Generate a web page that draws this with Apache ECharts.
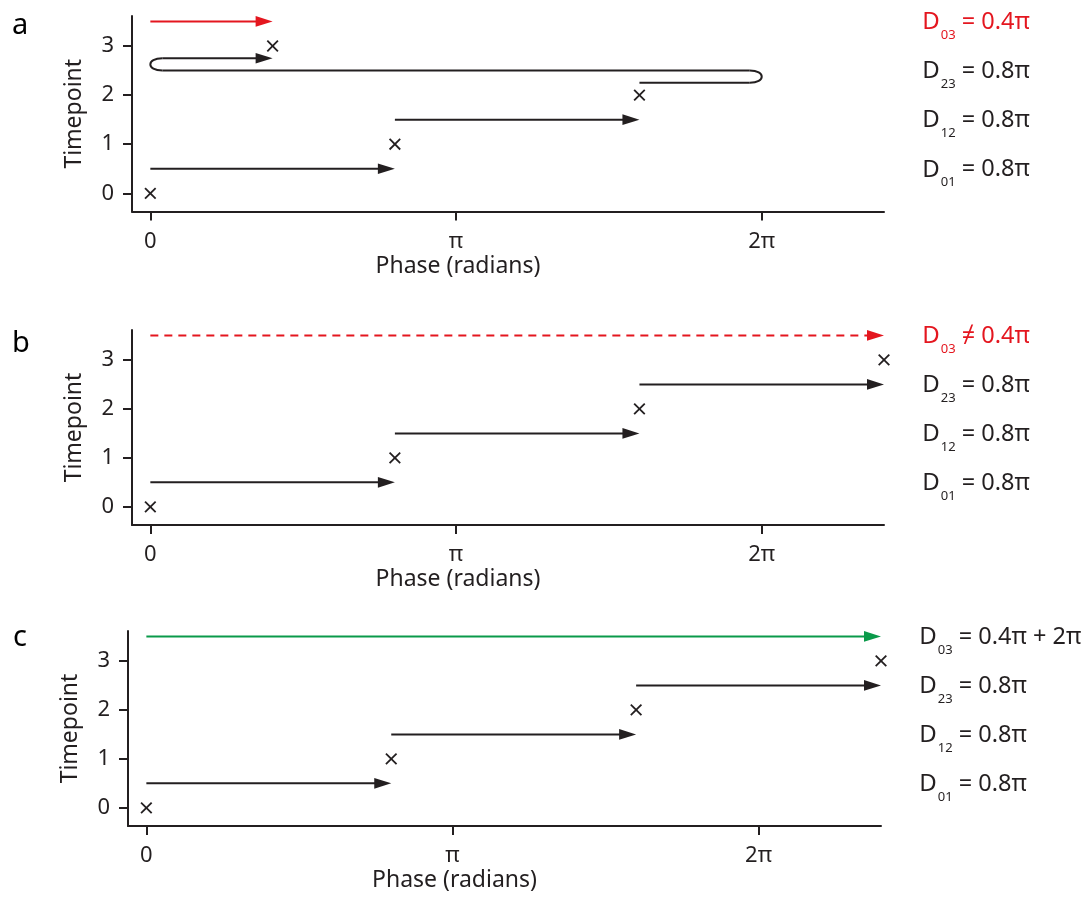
<!DOCTYPE html>
<html>
<head>
<meta charset="utf-8">
<script src="https://cdn.jsdelivr.net/npm/echarts@6/dist/echarts.min.js"></script>
<style>html,body{margin:0;padding:0;background:#fff}#chart{width:1083px;height:897px}</style>
</head>
<body>
<div id="chart"></div>
<script>
// ---------------- data ----------------
const PANELS = ['a', 'b', 'c'];
const TIMEPOINTS = [0, 1, 2, 3];
const X_TICK_VALUES = [0, 1, 2];          // phase, in units of π
const X_TICK_LABELS = ['0', 'π', '2π'];
const Y_TICK_VALUES = [0, 1, 2, 3];

// observed phase (units of π) at each timepoint
const phaseA = [0, 0.8, 1.6, 0.4];
const phaseB = [0, 0.8, 1.6, 2.4];
const phaseC = [0, 0.8, 1.6, 2.4];

// consecutive phase steps: [from, to, level]
const stepsA = [[0, 0.8, 0.5], [0.8, 1.6, 1.5]];
const stepsB = [[0, 0.8, 0.5], [0.8, 1.6, 1.5], [1.6, 2.4, 2.5]];
const stepsC = [[0, 0.8, 0.5], [0.8, 1.6, 1.5], [1.6, 2.4, 2.5]];
// wrapped step 2→3 in panel a: path points [phase, level]
const wrapA = [[1.6, 2.25], [2, 2.25], [2, 2.5], [0, 2.5], [0, 2.75], [0.4, 2.75]];
// direct 0→3 difference: [from, to, level]
const directA = [[0, 0.4, 3.5]];
const directB = [[0, 2.4, 3.5]];
const directC = [[0, 2.4, 3.5]];

// annotations
const labelSubs = ['03', '23', '12', '01'];
const labelLevels = [3.5, 2.5, 1.5, 0.5];
const relA = ['=', '=', '=', '='];
const relB = ['≠', '=', '=', '='];
const relC = ['=', '=', '=', '='];
const valA = ['0.4π', '0.8π', '0.8π', '0.8π'];
const valB = ['0.4π', '0.8π', '0.8π', '0.8π'];
const valC = ['0.4π + 2π', '0.8π', '0.8π', '0.8π'];

// ---------------- styles / layout ----------------
const INK = '#231f20', RED = '#e4161f', GREEN = '#0a9a4a';
const FONT = 'Noto Sans';
const LW = 2, HEAD_L = 17, HEAD_W = 5.3, CROSS = 5.3;
const LABEL_X = 2.525;
const GRIDS = [
  {left: 132, top: 16, width: 752, height: 195.5},
  {left: 132, top: 330, width: 752, height: 195},
  {left: 128, top: 631, width: 753, height: 195}
];
const X_MIN = -0.06, X_MAX = 2.4, Y_MIN = -0.37, Y_MAX = 3.61;

function arrowShapes(x0, y, x1, color, dash) {
  return [
    {type: 'line', shape: {x1: x0, y1: y, x2: x1 - HEAD_L + 1, y2: y},
     style: {stroke: color, lineWidth: LW, lineDash: dash || null, fill: null}},
    {type: 'polygon', shape: {points: [[x1, y], [x1 - HEAD_L, y - HEAD_W], [x1 - HEAD_L, y + HEAD_W]]},
     style: {fill: color}}
  ];
}

function arrowSeries(idx, data, color, dash) {
  return {
    type: 'custom', xAxisIndex: idx, yAxisIndex: idx, data: data, silent: true, clip: false,
    renderItem(params, api) {
      const a = api.coord([api.value(0), api.value(2)]);
      const b = api.coord([api.value(1), api.value(2)]);
      return {type: 'group', children: arrowShapes(a[0], a[1], b[0], color, dash)};
    }
  };
}

function crossSeries(idx, phases) {
  return {
    type: 'custom', xAxisIndex: idx, yAxisIndex: idx, silent: true, clip: false,
    data: phases.map((p, i) => [p, TIMEPOINTS[i]]),
    renderItem(params, api) {
      const p = api.coord([api.value(0), api.value(1)]);
      const s = CROSS;
      return {type: 'group', children: [
        {type: 'line', shape: {x1: p[0] - s, y1: p[1] - s, x2: p[0] + s, y2: p[1] + s}, style: {stroke: INK, lineWidth: 1.8}},
        {type: 'line', shape: {x1: p[0] - s, y1: p[1] + s, x2: p[0] + s, y2: p[1] - s}, style: {stroke: INK, lineWidth: 1.8}}
      ]};
    }
  };
}

function wrapSeries(idx, pts) {
  return {
    type: 'custom', xAxisIndex: idx, yAxisIndex: idx, silent: true, clip: false,
    data: pts,
    renderItem(params, api) {
      if (params.dataIndex !== 0) return null;
      const n = pts.length;
      const P = [];
      for (let j = 0; j < n; j++) P.push(api.coord([api.value(0, j), api.value(1, j)]));
      const R = 12, K = 4 * R / 3;
      const children = [];
      for (let j = 0; j < n - 1; j++) {
        const a = P[j], b = P[j + 1];
        if (Math.abs(a[1] - b[1]) < 0.5) {
          let xa = a[0], xb = b[0];
          const d = Math.sign(xb - xa);
          if (j > 0) xa += d * R;
          if (j + 1 < n - 1) {
            xb -= d * R;
            children.push({type: 'line', shape: {x1: xa, y1: a[1], x2: xb, y2: b[1]}, style: {stroke: INK, lineWidth: LW}});
          } else {
            children.push(...arrowShapes(xa, a[1], xb, INK));
          }
        } else {
          const prev = P[j - 1];
          const d = Math.sign(a[0] - prev[0]);
          const xs = a[0] - d * R;
          children.push({type: 'bezierCurve', shape: {
            x1: xs, y1: a[1], cpx1: xs + d * K, cpy1: a[1], cpx2: xs + d * K, cpy2: b[1], x2: xs, y2: b[1]
          }, style: {stroke: INK, lineWidth: LW, fill: null}});
        }
      }
      return {type: 'group', children: children};
    }
  };
}

function labelSeries(idx, rels, vals, firstColor) {
  return {
    type: 'custom', xAxisIndex: idx, yAxisIndex: idx, silent: true, clip: false,
    data: labelLevels.map((lv, i) => [LABEL_X, lv, i]),
    renderItem(params, api) {
      const i = api.value(2);
      const p = api.coord([api.value(0), api.value(1)]);
      const c = i === 0 ? firstColor : INK;
      return {
        type: 'text', x: p[0], y: p[1] + 1,
        style: {
          text: '{d|D}{s|' + labelSubs[i] + '}{r| ' + rels[i] + ' ' + vals[i] + '}',
          align: 'left', verticalAlign: 'middle', fill: c,
          font: '24px "' + FONT + '"',
          rich: {
            d: {fontSize: 24, lineHeight: 24, fontFamily: FONT, verticalAlign: 'top', fill: c},
            s: {fontSize: 13, lineHeight: 13, fontFamily: FONT, verticalAlign: 'top', padding: [18.5, 0, 0, 1], fill: c},
            r: {fontSize: 23.5, lineHeight: 24, fontFamily: FONT, verticalAlign: 'top', fill: c}
          }
        }
      };
    }
  };
}

const grid = GRIDS.map(g => Object.assign({outerBoundsMode: 'none', containLabel: false}, g));
const xAxis = GRIDS.map((g, i) => ({
  type: 'value', gridIndex: i, min: X_MIN, max: X_MAX,
  name: 'Phase (radians)', nameLocation: 'middle', nameGap: 43,
  nameTextStyle: {fontSize: 23, fontFamily: FONT, color: INK, padding: [0, 100, 0, 0]},
  axisLine: {show: true, onZero: false, lineStyle: {color: INK, width: 2}},
  axisTick: {show: true, inside: false, length: 9, customValues: X_TICK_VALUES, lineStyle: {color: INK, width: 2}},
  axisLabel: {show: true, customValues: X_TICK_VALUES, margin: 19, fontSize: 22, fontFamily: FONT, color: INK,
    formatter: v => X_TICK_LABELS[X_TICK_VALUES.indexOf(Math.round(v * 100) / 100)] || ''},
  splitLine: {show: false}
}));
const yAxis = GRIDS.map((g, i) => ({
  type: 'value', gridIndex: i, min: Y_MIN, max: Y_MAX,
  name: 'Timepoint', nameLocation: 'middle', nameGap: 46, nameRotate: 90,
  nameTextStyle: {fontSize: 23, fontFamily: FONT, color: INK},
  axisLine: {show: true, onZero: false, lineStyle: {color: INK, width: 2}},
  axisTick: {show: true, inside: false, length: 9, customValues: Y_TICK_VALUES, lineStyle: {color: INK, width: 2}},
  axisLabel: {show: true, customValues: Y_TICK_VALUES, margin: 18, fontSize: 22, fontFamily: FONT, color: INK,
    formatter: v => String(Math.round(v))},
  splitLine: {show: false}
}));

const series = [
  arrowSeries(0, directA, RED),
  arrowSeries(0, stepsA, INK),
  wrapSeries(0, wrapA),
  crossSeries(0, phaseA),
  labelSeries(0, relA, valA, RED),
  arrowSeries(1, directB, RED, [8, 6]),
  arrowSeries(1, stepsB, INK),
  crossSeries(1, phaseB),
  labelSeries(1, relB, valB, RED),
  arrowSeries(2, directC, GREEN),
  arrowSeries(2, stepsC, INK),
  crossSeries(2, phaseC),
  labelSeries(2, relC, valC, INK)
];

const PANEL_POS = [[12, 28], [12, 346], [13, 640]];
const graphic = PANELS.map((t, i) => ({
  type: 'text', left: PANEL_POS[i][0], top: PANEL_POS[i][1] - 17,
  style: {text: t, font: '29px "' + FONT + '"', fill: '#000'}
}));

const chart = echarts.init(document.getElementById('chart'), null, {renderer: 'canvas'});
chart.setOption({
  animation: false,
  backgroundColor: '#fff',
  grid: grid, xAxis: xAxis, yAxis: yAxis, series: series, graphic: graphic
});
</script>
</body>
</html>
